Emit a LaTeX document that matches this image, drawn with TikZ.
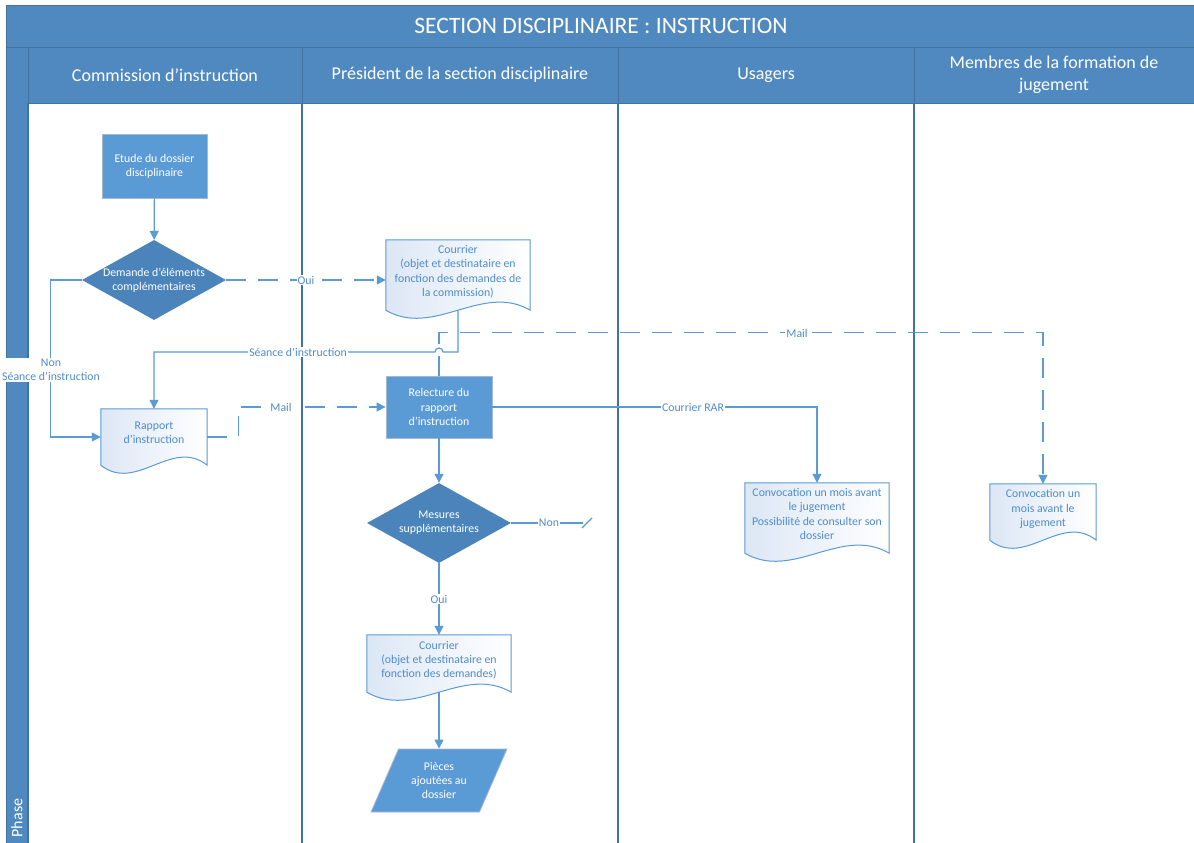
\documentclass[tikz,border=0pt]{standalone}
\usepackage{fontspec}
\setmainfont{Carlito}
\usetikzlibrary{shapes.geometric,arrows.meta,calc}
\definecolor{poolblue}{RGB}{80,137,192}
\definecolor{poolline}{RGB}{66,114,160}
\definecolor{flowblue}{RGB}{91,155,213}
\definecolor{procedge}{RGB}{165,185,210}
\definecolor{decblue}{RGB}{74,132,186}
\definecolor{doctext}{RGB}{80,140,200}
\definecolor{docshade}{RGB}{220,231,245}
\pgfdeclarelayer{lanes}
\pgfdeclarelayer{docs}
\pgfsetlayers{lanes,docs,main}

\begin{document}
\begin{tikzpicture}[x=1pt,y=-1pt]
\tikzstyle{pool}=[fill=poolblue,draw=poolline,line width=0.6pt]
\tikzstyle{lane}=[draw=poolline,line width=1.3pt]
\tikzstyle{lanehead}=[text=white,align=center,font=\fontsize{18}{22}\selectfont]
\tikzstyle{proc}=[rectangle,fill=flowblue,draw=procedge,line width=0.8pt,text=white,align=center,font=\fontsize{11.8}{14.2}\selectfont]
\tikzstyle{decision}=[diamond,fill=decblue,inner sep=0pt,minimum width=144pt,minimum height=80pt]
\tikzstyle{dectext}=[text=white,align=center,font=\fontsize{11.8}{14.2}\selectfont]
\tikzstyle{doc}=[rectangle,inner sep=0pt,text depth=8pt,text=doctext,align=center,font=\fontsize{11.8}{14.2}\selectfont]
\tikzstyle{docshape}=[draw=flowblue,line width=1pt,left color=docshade,right color=white]
\tikzstyle{pieces}=[trapezium,trapezium left angle=64,trapezium right angle=116,trapezium stretches=true,minimum width=136pt,minimum height=63pt,fill=flowblue,draw=procedge,line width=0.8pt,text=white,align=center,font=\fontsize{11.8}{14.2}\selectfont]
\tikzstyle{flow}=[draw=flowblue,line width=1.2pt,-{Triangle[length=9pt,width=9pt]}]
\tikzstyle{mailflow}=[flow,dash pattern=on 20pt off 12pt]
\tikzstyle{line}=[draw=flowblue,line width=1.2pt]
\tikzstyle{lbl}=[fill=white,text=doctext,inner sep=1pt,align=center,font=\fontsize{11.8}{14}\selectfont]
\useasboundingbox (0,0) rectangle (1194,843);

% pool and lanes
\begin{pgfonlayer}{lanes}
\fill[white] (0,0) rectangle (1194,843);
\draw[pool] (6,5) rectangle (1194,47);
\draw[pool] (6,47) rectangle (28,843);
\draw[pool] (28,47) rectangle (302,103);
\draw[pool] (302,47) rectangle (618,103);
\draw[pool] (618,47) rectangle (914,103);
\draw[pool] (914,47) rectangle (1194,103);
\draw[lane] (28,103) -- (28,843);
\draw[lane] (302,103) -- (302,843);
\draw[lane] (618,103) -- (618,843);
\draw[lane] (914,103) -- (914,843);
\end{pgfonlayer}
\node[text=white,font=\fontsize{23.5}{28}\selectfont] at (601,26) (titre) {SECTION DISCIPLINAIRE : INSTRUCTION};
\node[lanehead] at (165,75) (commission) {Commission d’instruction};
\node[lanehead] at (460,75) (president) {Président de la section disciplinaire};
\node[lanehead] at (766,75) (usagers) {Usagers};
\node[lanehead] at (1054,75) (membres) {Membres de la formation de\\jugement};
\node[text=white,rotate=90,font=\fontsize{16}{18}\selectfont] at (17,818) (phase) {Phase};

% steps
\node[proc,minimum width=105pt,minimum height=64pt] at (154.5,166) (etude) {Etude du dossier\\disciplinaire};
\node[decision,label={[dectext]center:{Demande d’éléments\\complémentaires}}] at (154,280) (demande) {};
\node[doc,minimum width=144pt,minimum height=70pt] at (458,275) (courrier1) {Courrier\\(objet et destinataire en\\fonction des demandes de\\la commission)};
\node[doc,minimum width=106pt,minimum height=56pt] at (154,437) (rapport) {Rapport\\d’instruction};
\node[proc,minimum width=106pt,minimum height=62pt] at (439,407) (relecture) {Relecture du\\rapport\\d’instruction};
\node[decision,label={[dectext]center:{Mesures\\supplémentaires}}] at (439,523) (mesures) {};
\node[doc,minimum width=144pt,minimum height=57pt] at (439,663.5) (courrier2) {Courrier\\(objet et destinataire en\\fonction des demandes)};
\node[pieces] at (439,780.5) (pieces) {Pièces\\ajoutées au\\dossier};
\node[doc,minimum width=144pt,minimum height=70pt] at (817,518) (convoc1) {Convocation un mois avant\\le jugement\\Possibilité de consulter son\\dossier};
\node[doc,minimum width=106pt,minimum height=56pt] at (1043,512) (convoc2) {Convocation un\\mois avant le\\jugement};

\begin{pgfonlayer}{docs}
\foreach \d in {courrier1,rapport,courrier2,convoc1,convoc2}
  \draw[docshape] (\d.north west) -- (\d.north east) -- (\d.south east)
    .. controls ($(\d.south east)!0.333!(\d.south west)+(0pt,28pt)$) and ($(\d.south east)!0.667!(\d.south west)+(0pt,-28pt)$) .. (\d.south west) -- cycle;
\end{pgfonlayer}

% connectors
\coordinate (hop) at (439,352);
\coordinate (nonend) at (583,523);
\draw[flow] (etude) -- (demande);
\draw[mailflow] (demande.east) -- node[lbl]{Oui} (demande.east -| courrier1.west);
\draw[flow] (demande.west) -- ++(-31,0) |- (rapport.west);
\node[lbl] at (51,370) (nonseance) {Non\\Séance d’instruction};
\draw[flow] (courrier1.south) |- ([xshift=4pt]hop) arc[start angle=0,end angle=180,radius=4pt] -| (rapport.north);
\node[lbl] at (298,352) (seance) {Séance d’instruction};
\draw[mailflow] (relecture.north) -- ++(0,-43) -| (convoc2.north);
\node[lbl] at (797,333) (mailmembres) {Mail};
\draw[mailflow] (rapport.east) -- ++(31,0) |- (relecture.west);
\node[lbl] at (281,407) (mailrapport) {Mail};
\draw[flow] (relecture.east) -| (convoc1.north);
\node[lbl] at (693,407) (rar) {Courrier RAR};
\draw[flow] (relecture) -- (mesures);
\draw[line] (mesures.east) -- (nonend);
\draw[line] (nonend) ++(-1,5) -- ++(10,-10);
\node[lbl] at (549,523) (nonmesures) {Non};
\draw[flow] (mesures) -- node[lbl]{Oui} (courrier2);
\draw[flow] (courrier2) -- (pieces);
\end{tikzpicture}
\end{document}
